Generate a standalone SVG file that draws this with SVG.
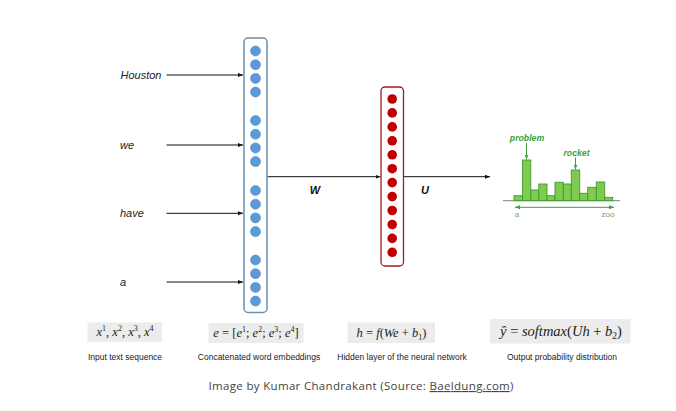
<svg xmlns="http://www.w3.org/2000/svg" width="676" height="411" viewBox="0 0 676 411">
<style>
.word{font-family:"Liberation Sans",Arial,sans-serif;font-size:11px;font-style:italic;fill:#222}
.wt{font-family:"Liberation Sans",Arial,sans-serif;font-size:11px;font-style:italic;font-weight:bold;fill:#111}
.ln{stroke:#111;stroke-width:1;fill:none}
.bl{fill:#5b9bd5;stroke:#4f8bc4;stroke-width:0.6}
.rd{fill:#c00000}
.bar{fill:#7fcb4f;stroke:#3f9a2e;stroke-width:0.9}
.gl{font-family:"Liberation Sans",Arial,sans-serif;font-size:8.7px;font-style:italic;font-weight:bold;fill:#3aa23a}
.ax{font-family:"Liberation Sans",Arial,sans-serif;font-size:8px;fill:#7a9a7a}
.fbox{fill:#ececec}
.math{font-family:"Liberation Serif","Times New Roman",serif;font-style:italic;fill:#222}
.mr{font-style:normal}
.cap{font-family:"Liberation Sans",Arial,sans-serif;font-size:8.5px;fill:#222;text-anchor:middle}
.credit{font-family:"Open Sans","Liberation Sans",sans-serif;font-size:11.5px;fill:#444}
</style>
<defs>
<marker id="ah" viewBox="0 0 10 10" refX="10" refY="5" markerWidth="5" markerHeight="5" orient="auto" markerUnits="userSpaceOnUse">
<path d="M0,1 L10,5 L0,9 z" fill="#111"/>
</marker>
<marker id="gh" viewBox="0 0 10 10" refX="10" refY="5" markerWidth="5" markerHeight="5" orient="auto-start-reverse" markerUnits="userSpaceOnUse">
<path d="M0,1 L10,5 L0,9 z" fill="#3aa23a"/>
</marker>
</defs>
<rect width="676" height="411" fill="#ffffff"/>

<g id="words">
<text class="word" x="120.5" y="79">Houston</text>
<text class="word" x="120" y="149">we</text>
<text class="word" x="120" y="217">have</text>
<text class="word" x="120" y="286">a</text>
</g>

<g id="connectors">
<line class="ln" x1="166.5" y1="75" x2="243" y2="75" marker-end="url(#ah)"/>
<line class="ln" x1="166.5" y1="145" x2="243" y2="145" marker-end="url(#ah)"/>
<line class="ln" x1="166.5" y1="213.3" x2="243" y2="213.3" marker-end="url(#ah)"/>
<line class="ln" x1="166.5" y1="282" x2="243" y2="282" marker-end="url(#ah)"/>
<line class="ln" x1="267.5" y1="176.7" x2="380.5" y2="176.7" marker-end="url(#ah)"/>
<line class="ln" x1="403.5" y1="176.7" x2="490" y2="176.7" marker-end="url(#ah)"/>
<text class="wt" x="315" y="194" text-anchor="middle">W</text>
<text class="wt" x="425" y="194" text-anchor="middle">U</text>
</g>

<g id="embedding">
<rect x="244" y="38" width="23" height="274.5" rx="4" fill="#fff" stroke="#6a8fb0" stroke-width="1.5"/>
<circle class="bl" cx="255.5" cy="51" r="5"/>
<circle class="bl" cx="255.5" cy="64.7" r="5"/>
<circle class="bl" cx="255.5" cy="78.4" r="5"/>
<circle class="bl" cx="255.5" cy="92.1" r="5"/>
<circle class="bl" cx="255.5" cy="120.5" r="5"/>
<circle class="bl" cx="255.5" cy="134.2" r="5"/>
<circle class="bl" cx="255.5" cy="147.9" r="5"/>
<circle class="bl" cx="255.5" cy="161.6" r="5"/>
<circle class="bl" cx="255.5" cy="190.5" r="5"/>
<circle class="bl" cx="255.5" cy="204.2" r="5"/>
<circle class="bl" cx="255.5" cy="217.9" r="5"/>
<circle class="bl" cx="255.5" cy="231.6" r="5"/>
<circle class="bl" cx="255.5" cy="260" r="5"/>
<circle class="bl" cx="255.5" cy="273.7" r="5"/>
<circle class="bl" cx="255.5" cy="287.4" r="5"/>
<circle class="bl" cx="255.5" cy="301.1" r="5"/>
</g>

<g id="hidden">
<rect x="381" y="87" width="22.5" height="179" rx="4" fill="#fff" stroke="#a31d1d" stroke-width="1.3"/>
<circle class="rd" cx="392.2" cy="99" r="4.8"/>
<circle class="rd" cx="392.2" cy="112.9" r="4.8"/>
<circle class="rd" cx="392.2" cy="126.9" r="4.8"/>
<circle class="rd" cx="392.2" cy="140.8" r="4.8"/>
<circle class="rd" cx="392.2" cy="154.8" r="4.8"/>
<circle class="rd" cx="392.2" cy="168.7" r="4.8"/>
<circle class="rd" cx="392.2" cy="182.6" r="4.8"/>
<circle class="rd" cx="392.2" cy="196.6" r="4.8"/>
<circle class="rd" cx="392.2" cy="210.5" r="4.8"/>
<circle class="rd" cx="392.2" cy="224.5" r="4.8"/>
<circle class="rd" cx="392.2" cy="238.4" r="4.8"/>
<circle class="rd" cx="392.2" cy="252.3" r="4.8"/>
</g>

<g id="output">
<line x1="503" y1="200.7" x2="620" y2="200.7" stroke="#8aa58a" stroke-width="1.3"/>
<rect class="bar" x="514" y="195.7" width="8.5" height="5"/>
<rect class="bar" x="522.5" y="160" width="8.3" height="40.7"/>
<rect class="bar" x="530.8" y="190" width="8" height="10.7"/>
<rect class="bar" x="538.8" y="184" width="8.2" height="16.7"/>
<rect class="bar" x="547" y="195.7" width="8" height="5"/>
<rect class="bar" x="555" y="182.3" width="8.3" height="18.4"/>
<rect class="bar" x="563.3" y="184" width="8" height="16.7"/>
<rect class="bar" x="571.3" y="170" width="8.4" height="30.7"/>
<rect class="bar" x="579.7" y="193.3" width="8" height="7.4"/>
<rect class="bar" x="587.7" y="187.3" width="8.6" height="13.4"/>
<rect class="bar" x="596.3" y="182" width="8.4" height="18.7"/>
<rect class="bar" x="604.7" y="197.3" width="8" height="3.4"/>
<line x1="515" y1="207.3" x2="614" y2="207.3" stroke="#3aa23a" stroke-width="1" marker-start="url(#gh)" marker-end="url(#gh)"/>
<text class="ax" x="517" y="216.5" text-anchor="middle">a</text>
<text class="ax" x="608" y="216.5" text-anchor="middle">zoo</text>
<text class="gl" x="527" y="140.5" text-anchor="middle">problem</text>
<text class="gl" x="576.5" y="155.5" text-anchor="middle">rocket</text>
<line x1="526.5" y1="143" x2="526.5" y2="159.5" stroke="#3aa23a" stroke-width="1" marker-end="url(#gh)"/>
<line x1="575.5" y1="157.5" x2="575.5" y2="169.5" stroke="#3aa23a" stroke-width="1" marker-end="url(#gh)"/>
</g>

<g id="formulas">
<rect class="fbox" x="87.5" y="322.5" width="74.5" height="19.5"/>
<text class="math" x="125" y="336" font-size="12.5" text-anchor="middle">x<tspan font-size="8" dy="-5" class="mr">1</tspan><tspan dy="5" class="mr">, </tspan>x<tspan font-size="8" dy="-5" class="mr">2</tspan><tspan dy="5" class="mr">, </tspan>x<tspan font-size="8" dy="-5" class="mr">3</tspan><tspan dy="5" class="mr">, </tspan>x<tspan font-size="8" dy="-5" class="mr">4</tspan></text>
<rect class="fbox" x="208.5" y="323" width="95" height="20"/>
<text class="math" x="256" y="337" font-size="12.5" text-anchor="middle">e<tspan class="mr"> = [</tspan>e<tspan font-size="8" dy="-5" class="mr">1</tspan><tspan dy="5" class="mr">; </tspan>e<tspan font-size="8" dy="-5" class="mr">2</tspan><tspan dy="5" class="mr">; </tspan>e<tspan font-size="8" dy="-5" class="mr">3</tspan><tspan dy="5" class="mr">; </tspan>e<tspan font-size="8" dy="-5" class="mr">4</tspan><tspan dy="5" class="mr">]</tspan></text>
<rect class="fbox" x="347.5" y="322.5" width="87.5" height="20.5"/>
<text class="math" x="391.5" y="337" font-size="12.5" text-anchor="middle">h<tspan class="mr"> = </tspan>f<tspan class="mr">(</tspan>We<tspan class="mr"> + </tspan>b<tspan font-size="8" dy="3" class="mr">1</tspan><tspan dy="-3" class="mr">)</tspan></text>
<rect class="fbox" x="490" y="319" width="140.5" height="24.5"/>
<text class="math" x="561" y="336" font-size="14.5" text-anchor="middle">ŷ<tspan class="mr"> = </tspan>softmax<tspan class="mr">(</tspan>Uh<tspan class="mr"> + </tspan>b<tspan font-size="9.5" dy="3" class="mr">2</tspan><tspan dy="-3" class="mr">)</tspan></text>
</g>

<g id="captions">
<text class="cap" x="125" y="360">Input text sequence</text>
<text class="cap" x="259" y="360">Concatenated word embeddings</text>
<text class="cap" x="402" y="360">Hidden layer of the neural network</text>
<text class="cap" x="562" y="360">Output probability distribution</text>
</g>

<text class="credit" x="208.5" y="390" textLength="305" lengthAdjust="spacing">Image by Kumar Chandrakant (Source: <tspan text-decoration="underline">Baeldung.com</tspan>)</text>
</svg>
